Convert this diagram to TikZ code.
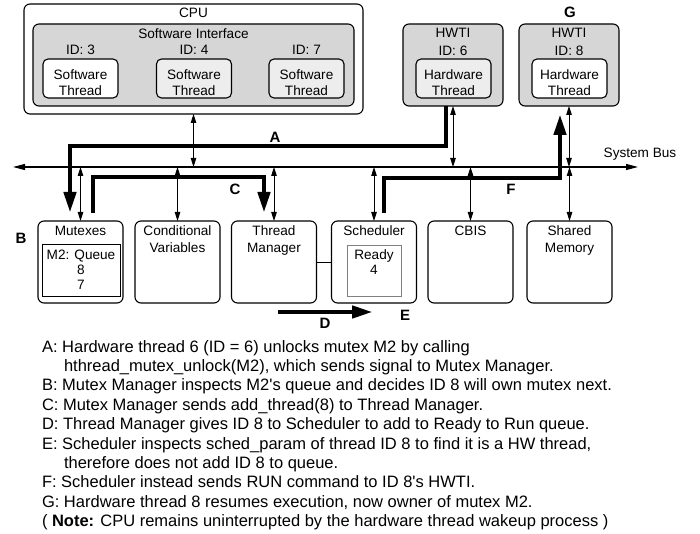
\documentclass[tikz,border=0pt]{standalone}
\usepackage{fontspec}
\setmainfont{Liberation Sans}
\usetikzlibrary{arrows.meta}
\definecolor{panel}{HTML}{D6D6D6}
\definecolor{pale}{HTML}{EDEDED}
\newcommand{\apos}{\textquotesingle}
\begin{document}
\begin{tikzpicture}[x=1pt,y=-1pt,
  every node/.style={inner sep=0pt, outer sep=0pt},
  lbl/.style={font=\fontsize{13.6}{16}\selectfont, anchor=base},
  tag/.style={font=\fontsize{15}{18}\selectfont\bfseries, anchor=base},
  note/.style={font=\fontsize{16.5}{19.4}\selectfont, anchor=base west},
  outerbox/.style={draw, line width=1.1pt, rounded corners=6pt, fill=white},
  panelbox/.style={draw, line width=1.1pt, rounded corners=6pt, fill=panel},
  threadbox/.style={draw, line width=1.1pt, rounded corners=5pt, minimum width=75pt, minimum height=39pt},
  unitbox/.style={draw, line width=1.1pt, rounded corners=6pt, minimum width=85pt, minimum height=82pt},
  link/.style={line width=1pt, {Triangle[length=9pt,width=5.5pt]}-{Triangle[length=9pt,width=5.5pt]}},
  flow/.style={line width=3.2pt, -{Triangle[length=20pt,width=12.5pt]}},
]
\useasboundingbox (0,0) rectangle (700,534);

% ---- CPU with its software threads ----
\node[outerbox, minimum width=339pt, minimum height=110pt] (cpu) at (193.5,59) {};
\node[panelbox, minimum width=321pt, minimum height=82pt] (swif) at (193.5,65) {};
\node[lbl] (cpuT) at (193.5,18) {CPU};
\node[lbl] (swifT) at (193.5,39) {Software Interface};
\node[threadbox, fill=white] (sw3) at (80.5,78.5) {};
\node[threadbox, fill=pale] (sw4) at (194,78.5) {};
\node[threadbox, fill=pale] (sw7) at (306.5,78.5) {};
\node[lbl] (id3) at (80.5,55) {ID: 3};
\node[lbl] (id4) at (194,55) {ID: 4};
\node[lbl] (id7) at (306.5,55) {ID: 7};
\foreach \t in {sw3,sw4,sw7}{
  \node[lbl] (\t a) at ([yshift=-1.5pt]\t.center) {Software};
  \node[lbl] (\t b) at ([yshift=-17.5pt]\t.center) {Thread};
}

% ---- hardware thread interfaces ----
\node[panelbox, minimum width=100pt, minimum height=82pt] (hw6) at (453,65) {};
\node[panelbox, minimum width=100pt, minimum height=82pt] (hw8) at (569,65) {};
\node[threadbox, fill=pale] (ht6) at (453.5,78.5) {};
\node[threadbox, fill=white] (ht8) at (569.5,78.5) {};
\node[lbl] (hw6T) at (453,38) {HWTI};
\node[lbl] (hw6I) at (453,56) {ID: 6};
\node[lbl] (hw8T) at (569,38) {HWTI};
\node[lbl] (hw8I) at (569,56) {ID: 8};
\foreach \t in {ht6,ht8}{
  \node[lbl] (\t a) at ([yshift=-1.5pt]\t.center) {Hardware};
  \node[lbl] (\t b) at ([yshift=-17.5pt]\t.center) {Thread};
}

% ---- system bus ----
\coordinate (busL) at (13,167);
\coordinate (busR) at (638,167);
\draw[line width=1.1pt, {Triangle[length=12pt,width=6pt]}-{Triangle[length=12pt,width=6pt]}] (busL) -- (busR);
\node[lbl] (busT) at (640,158) {System Bus};

% ---- hardware managers ----
\node[unitbox] (mutex) at (80.5,262) {};
\node[unitbox] (condvar) at (177.5,262) {};
\node[unitbox] (tmgr) at (274,262) {};
\node[unitbox] (sched) at (374,262) {};
\node[unitbox] (cbis) at (470.5,262) {};
\node[unitbox] (shmem) at (569.5,262) {};
\node[lbl] (mutexT) at (80.5,236) {Mutexes};
\node[lbl] (condvarT) at (177.5,236) {Conditional};
\node[lbl] (condvarU) at (177.5,253) {Variables};
\node[lbl] (tmgrT) at (274,236) {Thread};
\node[lbl] (tmgrU) at (274,253) {Manager};
\node[lbl] (schedT) at (374,236) {Scheduler};
\node[lbl] (cbisT) at (470.5,236) {CBIS};
\node[lbl] (shmemT) at (569.5,236) {Shared};
\node[lbl] (shmemU) at (569.5,253) {Memory};

\node[draw, line width=0.9pt, minimum width=78pt, minimum height=52pt] (mq) at (81,270) {};
\node[lbl] (mqA) at (81,259) {M2: Queue};
\node[lbl] (mqB) at (81,274) {8};
\node[lbl] (mqC) at (81,289) {7};
\node[draw=gray, line width=0.9pt, minimum width=54pt, minimum height=51pt] (rq) at (374,270.5) {};
\node[lbl] (rqA) at (374,259) {Ready};
\node[lbl] (rqB) at (374,274) {4};

\draw[line width=1pt] (tmgr.east) -- (sched.west);

% ---- bus connections ----
\draw[link] (cpu.south) -- (cpu.south |- busL);
\draw[link] (hw6.south) -- (hw6.south |- busL);
\draw[link] (hw8.south) -- (hw8.south |- busL);
\foreach \b in {mutex,condvar,tmgr,sched,cbis,shmem}
  \draw[link] (\b.north |- busL) -- (\b.north);

% ---- wakeup sequence ----
\draw[flow] ([xshift=-7pt]hw6.south) -- ++(0,40) -| ([xshift=-10.5pt,yshift=9pt]mutex.north);
\draw[flow] ([xshift=12.5pt,yshift=8pt]mutex.north) -- ++(0,-36) -| ([xshift=-10pt,yshift=9pt]tmgr.north);
\draw[flow] ([xshift=10pt,yshift=8pt]sched.north) -- ++(0,-35) -| ([xshift=-9pt,yshift=-9pt]hw8.south);
\coordinate (d0) at (278,312);
\coordinate (d1) at (372,312);
\draw[flow] (d0) -- (d1);

\node[tag] (tA) at (275,142.4) {A};
\node[tag] (tB) at (21,243.4) {B};
\node[tag] (tC) at (235,194.4) {C};
\node[tag] (tD) at (325,328.4) {D};
\node[tag] (tE) at (405,320.4) {E};
\node[tag] (tF) at (511,194.4) {F};
\node[tag] (tG) at (570,17.4) {G};

% ---- legend ----
\node[note] (n1) at (42,352) {A: Hardware thread 6 (ID = 6) unlocks mutex M2 by calling};
\node[note] (n2) at (64,371.4) {hthread\_mutex\_unlock(M2), which sends signal to Mutex Manager.};
\node[note] (n3) at (42,390.8) {B: Mutex Manager inspects M2\apos s queue and decides ID 8 will own mutex next.};
\node[note] (n4) at (42,410.2) {C: Mutex Manager sends add\_thread(8) to Thread Manager.};
\node[note] (n5) at (42,429.6) {D: Thread Manager gives ID 8 to Scheduler to add to Ready to Run queue.};
\node[note] (n6) at (42,449) {E: Scheduler inspects sched\_param of thread ID 8 to find it is a HW thread,};
\node[note] (n7) at (64,468.4) {therefore does not add ID 8 to queue.};
\node[note] (n8) at (42,487.8) {F: Scheduler instead sends RUN command to ID 8\apos s HWTI.};
\node[note] (n9) at (42,507.2) {G: Hardware thread 8 resumes execution, now owner of mutex M2.};
\node[note] (n10) at (42,526.6) {( \textbf{Note:} CPU remains uninterrupted by the hardware thread wakeup process )};
\end{tikzpicture}
\end{document}
